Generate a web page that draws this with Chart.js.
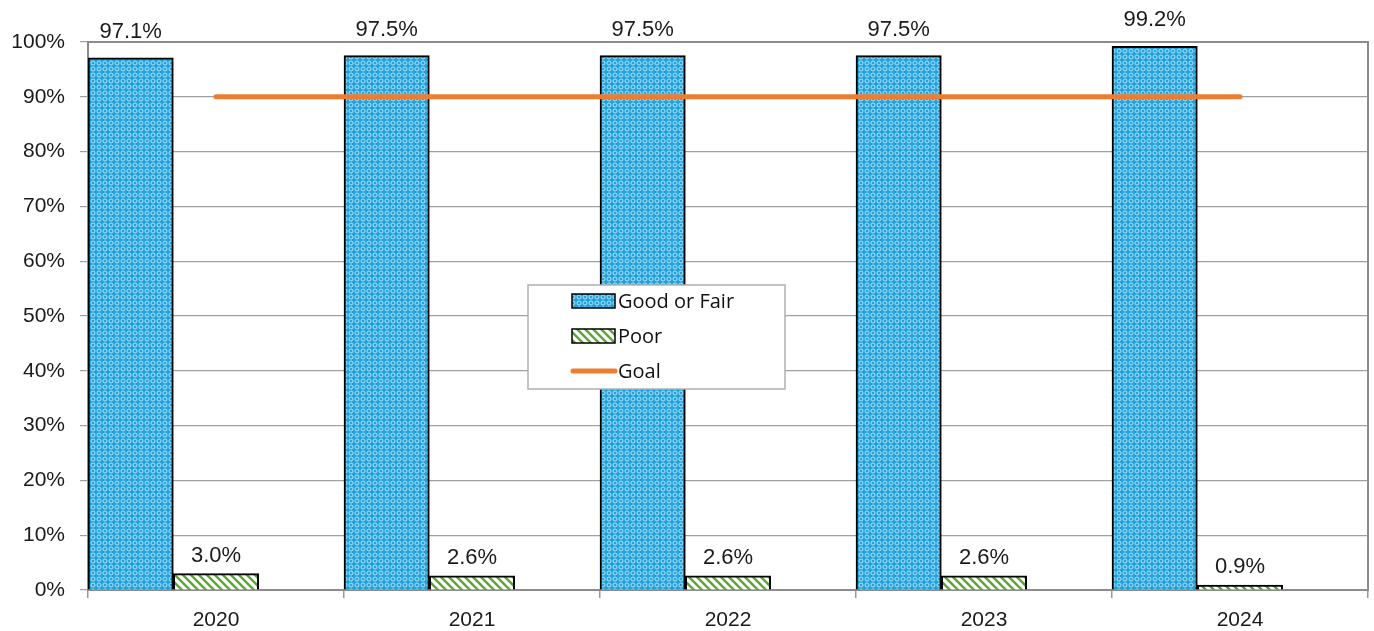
<!DOCTYPE html>
<html>
<head>
<meta charset="utf-8">
<script src="https://cdn.jsdelivr.net/npm/chart.js@4/dist/chart.umd.min.js"></script>
<style>
  html, body { margin: 0; padding: 0; background: #fff; }
  #wrap { width: 1374px; height: 631px; }
</style>
</head>
<body>
<div id="wrap"><canvas id="chart" width="1374" height="631"></canvas></div>
<script>
const years = ["2020", "2021", "2022", "2023", "2024"];
const goodOrFair = [97.1, 97.5, 97.5, 97.5, 99.2];
const poor = [3.0, 2.6, 2.6, 2.6, 0.9];
const goal = [90, 90, 90, 90, 90];
const yTicks = [0, 10, 20, 30, 40, 50, 60, 70, 80, 90, 100];

// fill patterns like the Excel ones
function dotPattern() {
  const c = document.createElement("canvas");
  c.width = 6;
  c.height = 6;
  const g = c.getContext("2d");
  g.fillStyle = "#22a3de";
  g.fillRect(0, 0, 6, 6);
  g.strokeStyle = "#b3e2f7";
  g.lineWidth = 1;
  g.beginPath();
  g.arc(3, 3, 2, 0, Math.PI * 2);
  g.stroke();
  return g.createPattern(c, "repeat");
}

function stripePattern() {
  const c = document.createElement("canvas");
  c.width = 8;
  c.height = 8;
  const g = c.getContext("2d");
  g.fillStyle = "#ffffff";
  g.fillRect(0, 0, 8, 8);
  g.strokeStyle = "#5aa832";
  g.lineWidth = 2.4;
  g.beginPath();
  g.moveTo(-4, 4); g.lineTo(4, 12);
  g.moveTo(0, 0); g.lineTo(8, 8);
  g.moveTo(4, -4); g.lineTo(12, 4);
  g.stroke();
  return g.createPattern(c, "repeat");
}

const blueFill = dotPattern();
const greenFill = stripePattern();
const GOAL_COLOR = "#ed7d31";

const plotBox = {
  id: "plotBox",
  beforeDatasetsDraw(chart) {
    const { ctx, chartArea: a } = chart;
    ctx.save();
    ctx.strokeStyle = "#8c8c8c";
    ctx.lineWidth = 2;
    ctx.strokeRect(a.left, a.top, a.right - a.left, a.bottom - a.top);
    ctx.restore();
  }
};

const valueLabels = {
  id: "valueLabels",
  afterDatasetsDraw(chart) {
    const ctx = chart.ctx;
    ctx.save();
    ctx.font = "22px 'Liberation Sans', Arial, sans-serif";
    ctx.fillStyle = "#1a1a1a";
    ctx.textAlign = "center";
    ctx.textBaseline = "middle";
    [[0, 26], [1, 18]].forEach(([di, off]) => {
      const ds = chart.data.datasets[di];
      chart.getDatasetMeta(di).data.forEach((bar, i) => {
        ctx.fillText(ds.data[i].toFixed(1) + "%", bar.x, bar.y - off);
      });
    });
    ctx.restore();
  }
};

const boxLegend = {
  id: "boxLegend",
  afterDraw(chart) {
    const ctx = chart.ctx;
    const x = 528, y = 285, w = 257, h = 104;
    ctx.save();
    ctx.fillStyle = "#ffffff";
    ctx.fillRect(x, y, w, h);
    ctx.strokeStyle = "#b0b0b0";
    ctx.lineWidth = 1.5;
    ctx.strokeRect(x, y, w, h);
    ctx.font = "20px 'Open Sans', sans-serif";
    ctx.textBaseline = "middle";
    const items = chart.data.datasets.filter((d) => d.label);
    items.forEach((d, i) => {
      const cy = y + 16 + i * 35;
      if (d.type === "line") {
        ctx.strokeStyle = d.borderColor;
        ctx.lineWidth = 5;
        ctx.lineCap = "round";
        ctx.beginPath();
        ctx.moveTo(x + 45, cy);
        ctx.lineTo(x + 87, cy);
        ctx.stroke();
      } else {
        ctx.fillStyle = d.backgroundColor;
        ctx.fillRect(x + 44, cy - 7, 43, 14);
        ctx.strokeStyle = "#000";
        ctx.lineWidth = 1.5;
        ctx.strokeRect(x + 44, cy - 7, 43, 14);
      }
      ctx.fillStyle = "#111";
      ctx.fillText(d.label, x + 90, cy + 1);
    });
    ctx.restore();
  }
};

new Chart(document.getElementById("chart"), {
  data: {
    labels: years,
    datasets: [
      {
        type: "bar",
        label: "Good or Fair",
        data: goodOrFair,
        backgroundColor: blueFill,
        borderColor: "#000",
        borderWidth: 2,
        order: 1
      },
      {
        type: "bar",
        label: "Poor",
        data: poor,
        backgroundColor: greenFill,
        borderColor: "#000",
        borderWidth: 2,
        order: 1
      },
      {
        // empty third slot, keeps the bars on the left like the original
        type: "bar",
        label: "",
        data: years.map(() => null),
        order: 1
      },
      {
        type: "line",
        label: "Goal",
        data: goal,
        borderColor: GOAL_COLOR,
        borderWidth: 5,
        borderCapStyle: "round",
        pointRadius: 0,
        order: 0
      }
    ]
  },
  options: {
    responsive: false,
    animation: false,
    layout: { padding: { top: 42, right: 6, left: 0, bottom: 0 } },
    datasets: {
      bar: { categoryPercentage: 1, barPercentage: 1 }
    },
    plugins: {
      legend: { display: false },
      tooltip: { enabled: false }
    },
    scales: {
      x: {
        offset: true,
        grid: {
          offset: true,
          drawOnChartArea: false,
          drawTicks: true,
          tickLength: 8,
          color: "#9a9a9a",
          lineWidth: 1.5
        },
        border: { color: "#8c8c8c", width: 2 },
        ticks: {
          color: "#1a1a1a",
          padding: 10,
          font: { family: "'Liberation Sans', Arial, sans-serif", size: 21 }
        },
        afterFit(scale) { scale.height = 41; }
      },
      y: {
        min: 0,
        max: 100,
        afterBuildTicks(scale) {
          scale.ticks = yTicks.map((v) => ({ value: v }));
        },
        grid: {
          color: "#a0a0a0",
          lineWidth: 1.2,
          tickLength: 8
        },
        border: { color: "#8c8c8c", width: 2 },
        ticks: {
          color: "#1a1a1a",
          padding: 15,
          font: { family: "'Liberation Sans', Arial, sans-serif", size: 21 },
          callback: (v) => v + "%"
        },
        afterFit(scale) { scale.width = 88; }
      }
    }
  },
  plugins: [plotBox, valueLabels, boxLegend]
});
</script>
</body>
</html>
